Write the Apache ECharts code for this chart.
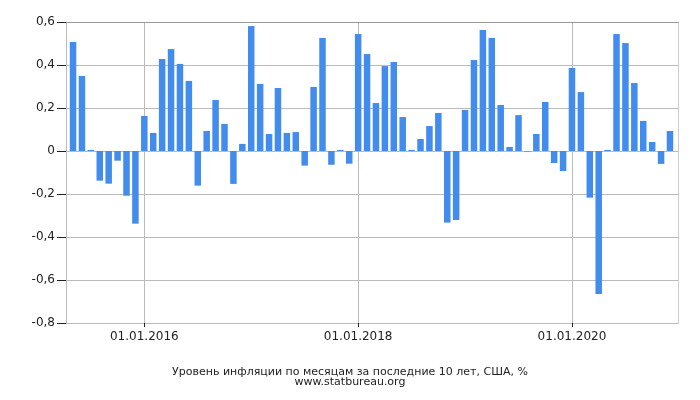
<!DOCTYPE html>
<html><head><meta charset="utf-8">
<script src="https://cdn.jsdelivr.net/npm/echarts@6/dist/echarts.min.js"></script>
<style>html,body{margin:0;padding:0;background:#fff}#c{width:700px;height:400px}</style>
</head><body><div id="c"></div>
<script>
const months = [
  '05.2015','06.2015','07.2015','08.2015','09.2015','10.2015','11.2015','12.2015',
  '01.2016','02.2016','03.2016','04.2016','05.2016','06.2016','07.2016','08.2016','09.2016','10.2016','11.2016','12.2016',
  '01.2017','02.2017','03.2017','04.2017','05.2017','06.2017','07.2017','08.2017','09.2017','10.2017','11.2017','12.2017',
  '01.2018','02.2018','03.2018','04.2018','05.2018','06.2018','07.2018','08.2018','09.2018','10.2018','11.2018','12.2018',
  '01.2019','02.2019','03.2019','04.2019','05.2019','06.2019','07.2019','08.2019','09.2019','10.2019','11.2019','12.2019',
  '01.2020','02.2020','03.2020','04.2020','05.2020','06.2020','07.2020','08.2020','09.2020','10.2020','11.2020','12.2020'
];
const inflation = [
  0.507, 0.349, 0.005, -0.138, -0.152, -0.045, -0.208, -0.338,
  0.163, 0.084, 0.428, 0.474, 0.405, 0.326, -0.161, 0.093, 0.237, 0.126, -0.153, 0.033,
  0.581, 0.312, 0.079, 0.293, 0.084, 0.088, -0.068, 0.298, 0.526, -0.064, 0.005, -0.059,
  0.544, 0.451, 0.223, 0.395, 0.414, 0.158, 0.005, 0.056, 0.116, 0.177, -0.333, -0.321,
  0.191, 0.423, 0.563, 0.526, 0.214, 0.019, 0.167, -0.003, 0.079, 0.228, -0.056, -0.093,
  0.386, 0.274, -0.217, -0.665, 0.005, 0.544, 0.502, 0.316, 0.140, 0.042, -0.060, 0.093
];
const xTickMonths = ['01.2016', '01.2018', '01.2020'];
const xTickLabels = ['01.01.2016', '01.01.2018', '01.01.2020'];
const titleLines = ['Уровень инфляции по месяцам за последние 10 лет, США, %', 'www.statbureau.org'];

const xTickIdx = xTickMonths.map(m => months.indexOf(m));
const chart = echarts.init(document.getElementById('c'), null, {renderer: 'canvas'});
const font = 'DejaVu Sans';
chart.setOption({
  animation: false,
  backgroundColor: '#fff',
  title: {
    text: titleLines.join('\n'),
    left: 'center', top: 362,
    textStyle: {fontFamily: font, fontSize: 11, fontWeight: 'normal', color: '#222', lineHeight: 10}
  },
  grid: {left: 66, right: 22, top: 22, bottom: 77, containLabel: false},
  xAxis: [{
    type: 'value', min: -0.79, max: 67.9,
    axisLine: {show: true, onZero: false, lineStyle: {color: '#bbb', width: 1}},
    axisTick: {show: true, length: 4, customValues: xTickIdx, lineStyle: {color: '#222'}},
    axisLabel: {customValues: xTickIdx, margin: 8, fontFamily: font, fontSize: 12, color: '#222',
      formatter: v => xTickLabels[xTickIdx.indexOf(Math.round(v))] || ''},
    splitLine: {show: true, lineStyle: {color: '#bbb', width: 1}}
  }, {
    type: 'value', position: 'top', min: -0.79, max: 67.9,
    axisLine: {show: true, onZero: false, lineStyle: {color: '#999', width: 1}},
    axisTick: {show: false}, axisLabel: {show: false}, splitLine: {show: false}
  }],
  yAxis: [{
    type: 'value', min: -0.8, max: 0.6, interval: 0.2,
    axisLine: {show: true, onZero: false, lineStyle: {color: '#bbb'}},
    axisTick: {show: true, length: 9, lineStyle: {color: '#222'}},
    axisLabel: {margin: 11, fontFamily: font, fontSize: 12, color: '#222',
      formatter: v => (Math.round(v * 10) / 10).toString().replace('.', ',')},
    splitLine: {show: true, lineStyle: {color: '#bbb', width: 1}}
  }, {
    type: 'value', position: 'right', min: -0.8, max: 0.6, interval: 0.2,
    axisLine: {show: true, onZero: false, lineStyle: {color: '#ccc'}},
    axisTick: {show: false}, axisLabel: {show: false}, splitLine: {show: false}
  }],
  series: [{
    type: 'bar', xAxisIndex: 0, yAxisIndex: 0,
    barWidth: 6.5,
    itemStyle: {color: '#428cee'},
    data: inflation.map((v, i) => [i, v])
  }]
});
</script></body></html>
